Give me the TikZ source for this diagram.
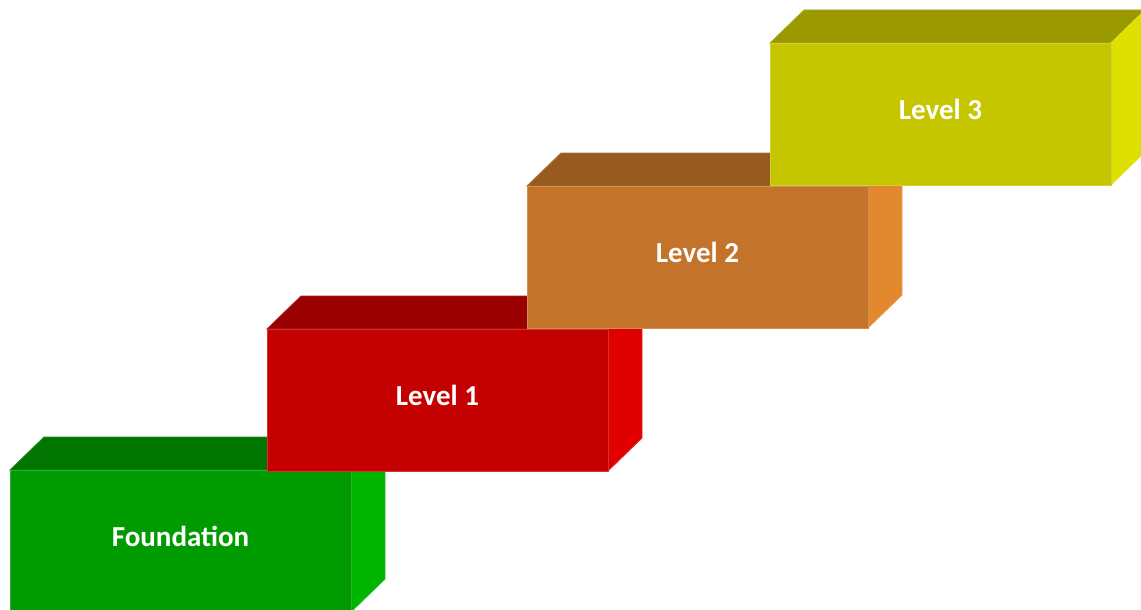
\documentclass[tikz,border=0pt]{standalone}
\usepackage{fontspec}
\setmainfont{Carlito}
\definecolor{gF}{HTML}{009B00}\definecolor{gT}{HTML}{007500}\definecolor{gR}{HTML}{00B400}
\definecolor{rF}{HTML}{C40000}\definecolor{rT}{HTML}{9A0000}\definecolor{rR}{HTML}{E00000}
\definecolor{oF}{HTML}{C4742A}\definecolor{oT}{HTML}{985B1F}\definecolor{oR}{HTML}{E2882F}
\definecolor{yF}{HTML}{C6C600}\definecolor{yT}{HTML}{9A9A00}\definecolor{yR}{HTML}{E0E000}
\tikzset{
  lbl/.style={text=white,font=\bfseries\fontsize{29}{34}\selectfont,inner sep=0pt},
  face/.style={line width=0.8pt,line join=miter}
}
% #1 x, #2 y (front top-left), #3 prefix colour, #4 name, #5 text
\newcommand\stairblock[5]{%
  \fill[#3T,face,draw=#3T!85!white] (#1,#2) -- ++(34,-33) -- ++(341,0) -- ++(-34,33) -- cycle;
  \fill[#3R,face,draw=#3R!85!white] (#1+341,#2) -- ++(34,-33) -- ++(0,142) -- ++(-34,33) -- cycle;
  \fill[#3F,face,draw=#3F!80!white] (#1,#2) rectangle ++(341,142);
  \node[lbl] (#4) at (#1+170.5,#2+66) {#5};
}
\begin{document}
\begin{tikzpicture}[x=1pt,y=-1pt]
\useasboundingbox (0,0) rectangle (1141,610);
\clip (0,0) rectangle (1141,610);
\stairblock{10}{470}{g}{found}{Foundation}
\stairblock{267}{329}{r}{lev1}{Level 1}
\stairblock{527}{186}{o}{lev2}{Level 2}
\stairblock{770}{43}{y}{lev3}{Level 3}
\end{tikzpicture}
\end{document}
